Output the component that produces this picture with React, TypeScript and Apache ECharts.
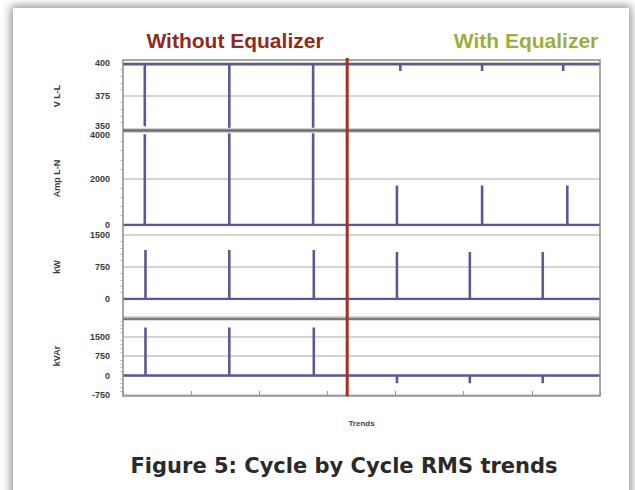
import React, { useEffect, useRef } from "react";
import * as echarts from "echarts";

// Time axis (s)
const timeMin = 0;
const timeMax = 70;
const timeTickStep = 10;
const equalizerOnTime = 32.9;

// Panel 1: line-to-line voltage
const vllBase = 399;
const vllEventTimes = [3.2, 15.6, 27.9, 40.7, 52.7, 64.6];
const vllEventValues = [352, 351, 351, 394, 394, 394];

// Panel 2: line-to-neutral current
const ampBase = 0;
const ampEventTimes = [3.2, 15.6, 27.9, 40.2, 52.7, 65.2];
const ampEventValues = [3900, 3950, 3950, 1700, 1700, 1700];

// Panel 3: active power
const kwBase = 0;
const kwEventTimes = [3.3, 15.6, 28.0, 40.2, 50.9, 61.6];
const kwEventValues = [1150, 1150, 1150, 1100, 1100, 1100];

// Panel 4: reactive power
const kvarBase = 0;
const kvarEventTimes = [3.3, 15.6, 28.0, 40.2, 50.9, 61.6];
const kvarEventValues = [1850, 1850, 1850, -300, -300, -300];

const panelNames = ["V L-L", "Amp L-N", "kW", "kVAr"];
const panelMins = [350, 0, 0, -750];
const panelMaxs = [400, 4000, 1500, 2250];
const panelSteps = [25, 2000, 750, 750];
const hiddenTickLabels = [[], [], [], [2250]];

const titleLeft = "Without Equalizer";
const titleRight = "With Equalizer";
const xAxisName = "Trends";
const caption = "Figure 5: Cycle by Cycle RMS trends";

// RMS trace: flat baseline with a one-cycle excursion at each event
function trace(base: number, times: number[], values: number[]) {
  const pts: number[][] = [[timeMin, base]];
  times.forEach((t, i) => {
    pts.push([t, base], [t, values[i]], [t, base]);
  });
  pts.push([timeMax, base]);
  return pts;
}

const traces = [
  trace(vllBase, vllEventTimes, vllEventValues),
  trace(ampBase, ampEventTimes, ampEventValues),
  trace(kwBase, kwEventTimes, kwEventValues),
  trace(kvarBase, kvarEventTimes, kvarEventValues),
];

const PLOT_LEFT = 123;
const PLOT_RIGHT = 600;
const PLOT_TOP = 60;
const PLOT_BOTTOM = 396;
const grids = [
  { top: 63, height: 66 },
  { top: 132, height: 93 },
  { top: 235, height: 64 },
  { top: 317, height: 78 },
];

const labelFont = {
  fontFamily: "Liberation Sans, Arial, sans-serif",
  fontWeight: "bold" as const,
  fontSize: 9,
  color: "#3a3a3a",
};

// Panel 1's lowest label sits a little up, panel 2's top label a little down
function tickLabel(i: number, v: number) {
  if (hiddenTickLabels[i].includes(v)) return "";
  if (i === 0 && v === panelMins[0]) return `{up|${v}}`;
  if (i === 1 && v === panelMaxs[1]) return `{down|${v}}`;
  return String(v);
}

export default function App() {
  const ref = useRef<HTMLDivElement>(null);

  useEffect(() => {
    if (!ref.current) return;
    const chart = echarts.init(ref.current, null, { renderer: "svg" });

    const option: any = {
      animation: false,
      backgroundColor: "transparent",
      grid: grids.map((g) => ({
        left: PLOT_LEFT,
        right: 635 - PLOT_RIGHT,
        top: g.top,
        height: g.height,
        containLabel: false,
      })),
      xAxis: grids.map((_, i) => ({
        type: "value",
        gridIndex: i,
        min: timeMin,
        max: timeMax,
        interval: timeTickStep,
        axisLine: { show: false, onZero: false },
        axisLabel: { show: false },
        axisTick: {
          show: i === 3,
          inside: true,
          length: 4,
          lineStyle: { color: "#999" },
        },
        splitLine: { show: false },
        name: i === 3 ? xAxisName : "",
        nameLocation: "middle",
        nameGap: 24,
        nameTextStyle: { ...labelFont, fontSize: 8, color: "#444" },
      })),
      yAxis: grids.map((_, i) => ({
        type: "value",
        gridIndex: i,
        min: panelMins[i],
        max: panelMaxs[i],
        interval: panelSteps[i],
        name: panelNames[i],
        nameLocation: "middle",
        nameRotate: 90,
        nameGap: 62,
        nameTextStyle: { ...labelFont, color: "#3a3a3a" },
        axisLine: { show: false },
        axisTick: { show: false },
        minorTick: {
          show: true,
          splitNumber: 5,
          length: 3,
          lineStyle: { color: "#c9c9d4" },
        },
        axisLabel: {
          ...labelFont,
          margin: 13,
          formatter: (v: number) => tickLabel(i, v),
          rich: {
            up: { ...labelFont, padding: [0, 0, 7, 0] },
            down: { ...labelFont, padding: [5, 0, 0, 0] },
          },
        },
        splitLine: { lineStyle: { color: "#c6c6c6", width: 1.5 } },
      })),
      series: traces.map((data, i) => ({
        type: "line",
        xAxisIndex: i,
        yAxisIndex: i,
        data,
        symbol: "none",
        silent: true,
        lineStyle: { color: "#5a5a92", width: 2.6 },
      })),
    };
    chart.setOption(option);

    const dividerX = chart.convertToPixel({ xAxisIndex: 0 }, equalizerOnTime) as number;

    chart.setOption({
      graphic: [
        {
          type: "rect",
          shape: {
            x: PLOT_LEFT,
            y: PLOT_TOP,
            width: PLOT_RIGHT - PLOT_LEFT,
            height: PLOT_BOTTOM - PLOT_TOP,
          },
          style: { fill: "none", stroke: "#8c8c8c", lineWidth: 1.5 },
          z: 5,
        },
        {
          type: "line",
          shape: { x1: PLOT_LEFT, y1: 130.5, x2: PLOT_RIGHT, y2: 130.5 },
          style: { stroke: "#6e6e6e", lineWidth: 2.5 },
          z: 5,
        },
        {
          type: "line",
          shape: { x1: PLOT_LEFT, y1: 319, x2: PLOT_RIGHT, y2: 319 },
          style: { stroke: "#7a7a7a", lineWidth: 2.5 },
          z: 5,
        },
        {
          type: "line",
          shape: { x1: dividerX, y1: PLOT_TOP - 2, x2: dividerX, y2: PLOT_BOTTOM },
          style: { stroke: "#a3301f", lineWidth: 3 },
          z: 10,
        },
        {
          type: "text",
          x: 235,
          y: 40,
          style: {
            text: titleLeft,
            fill: "#8e2b1d",
            font: "bold 21px 'Liberation Sans', Arial, sans-serif",
            align: "center",
            verticalAlign: "middle",
          },
        },
        {
          type: "text",
          x: 526,
          y: 40,
          style: {
            text: titleRight,
            fill: "#a0ad3e",
            font: "bold 21px 'Liberation Sans', Arial, sans-serif",
            align: "center",
            verticalAlign: "middle",
          },
        },
        {
          type: "text",
          x: 344,
          y: 466,
          style: {
            text: caption,
            fill: "#2a2a2a",
            font: "bold 21px 'DejaVu Sans', sans-serif",
            align: "center",
            verticalAlign: "middle",
          },
        },
      ],
    });

    return () => chart.dispose();
  }, []);

  return (
    <div
      style={{
        position: "absolute",
        left: 0,
        top: 0,
        width: 635,
        height: 490,
        overflow: "hidden",
        background: "#fff",
      }}
    >
      <div
        style={{
          position: "absolute",
          left: 13,
          top: 8,
          width: 616,
          height: 540,
          background: "#fff",
          boxShadow: "0 0 9px 2px rgba(0,0,0,0.45)",
        }}
      />
      <div
        ref={ref}
        style={{ position: "absolute", left: 0, top: 0, width: 635, height: 490 }}
      />
    </div>
  );
}
